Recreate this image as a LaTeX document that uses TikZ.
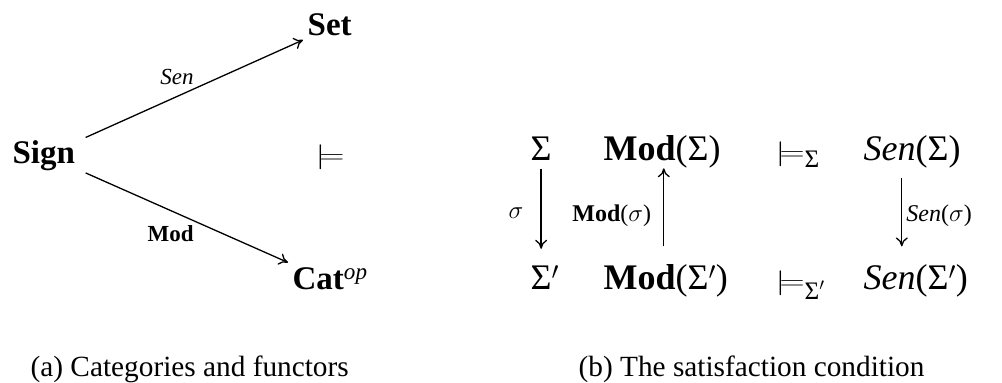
\documentclass[tikz,border=0pt]{standalone}
\usepackage{fontspec}
\usepackage{amsmath}
\usepackage{graphicx}
\setmainfont{Liberation Serif}
\usetikzlibrary{arrows.meta}

\newcommand{\wmodels}{\scalebox{1.4}[1]{$\models$}}

\begin{document}
\begin{tikzpicture}[x=1pt, y=-1pt, line width=1.3pt, >={To[length=9pt,width=12pt]},
    cat/.style={font=\fontsize{33}{36}\selectfont\bfseries, anchor=base west, inner sep=4pt},
    fun/.style={font=\fontsize{23}{25}\selectfont, inner sep=2pt},
    obj/.style={font=\fontsize{36}{38}\selectfont, anchor=base west, inner sep=0pt},
    lbl/.style={font=\fontsize{24}{26}\selectfont, inner sep=0pt},
    capt/.style={font=\fontsize{29.3}{32}\selectfont, anchor=base west, inner sep=0pt}]
    \useasboundingbox (0,0) rectangle (1002,383);
    % (a) categories and functors
    \node[cat, inner xsep=10pt, inner ysep=2pt] (sign) at (2,163) {Sign};
    \node[cat] (set) at (303,35) {Set};
    \node[cat] (cat) at (288,289) {Cat$^{\mathit{op}}$};
    \node[font=\fontsize{36}{38}\selectfont] (sat) at (330,157) {\wmodels};
    \draw[->] (sign.north east) -- node[fun, pos=0.42, above=9pt] {\itshape Sen} (set.south west);
    \draw[->] (sign.south east) -- node[fun, pos=0.42, below=12pt] {\bfseries Mod} (cat.north west);
    % (b) the satisfaction condition
    \node[obj] (s1) at (530,160) {Σ};
    \node[obj] (m1) at (603,160) {{\bfseries Mod}(Σ)};
    \node[obj] (r1) at (775,160) {\wmodels$_{\text{Σ}}$};
    \node[obj] (e1) at (863,160) {{\itshape Sen}(Σ)};
    \node[obj] (s2) at (530,289) {Σ$'$};
    \node[obj] (m2) at (603,289) {{\bfseries Mod}(Σ$'$)};
    \node[obj] (r2) at (775,289) {\wmodels$_{\text{Σ$'$}}$};
    \node[obj] (e2) at (863,289) {{\itshape Sen}(Σ$'$)};
    \draw[->, shorten <=8pt, shorten >=16pt] (s1.south) -- node[lbl, left=17pt] {$\sigma$} (s1.south |- s2.north);
    \draw[->, shorten <=17pt] ([xshift=-2pt]m2.north) -- node[lbl, left=12pt] {{\bfseries Mod}($\sigma$)} ([xshift=-2pt]m2.north |- m1.south);
    \draw[->, shorten <=10pt, shorten >=17pt] ([xshift=-14pt]e2.north |- e1.south) -- node[lbl, right=4pt] {{\itshape Sen}($\sigma$)} ([xshift=-14pt]e2.north);
    % captions
    \node[capt] (capa) at (30,376) {(a) Categories and functors};
    \node[capt] (capb) at (578,376) {(b) The satisfaction condition};
\end{tikzpicture}
\end{document}
